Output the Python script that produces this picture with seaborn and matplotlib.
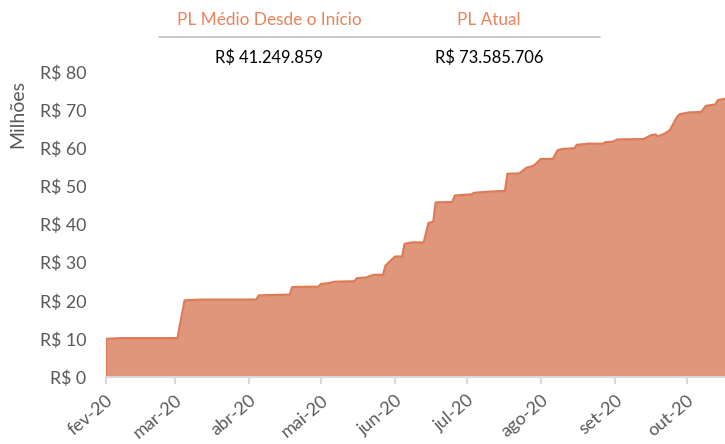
import pandas as pd
import numpy as np
import matplotlib
matplotlib.use("Agg")
import matplotlib.pyplot as plt
import matplotlib.dates as mdates
import seaborn as sns

# Breakpoints of the PL curve (R$ millions)
dates = [
    "2020-02-01", "2020-02-08", "2020-03-02", "2020-03-05", "2020-03-12",
    "2020-04-04", "2020-04-05", "2020-04-18", "2020-04-19", "2020-04-30",
    "2020-05-01", "2020-05-04", "2020-05-07", "2020-05-15", "2020-05-16",
    "2020-05-20", "2020-05-23", "2020-05-27", "2020-05-28", "2020-06-01",
    "2020-06-04", "2020-06-05", "2020-06-08", "2020-06-13", "2020-06-15",
    "2020-06-17", "2020-06-18", "2020-06-25", "2020-06-26", "2020-07-03",
    "2020-07-04", "2020-07-10", "2020-07-17", "2020-07-18", "2020-07-23",
    "2020-07-26", "2020-07-29", "2020-08-01", "2020-08-06", "2020-08-08",
    "2020-08-10", "2020-08-15", "2020-08-16", "2020-08-21", "2020-08-27",
    "2020-08-28", "2020-08-31", "2020-09-02", "2020-09-13", "2020-09-16",
    "2020-09-18", "2020-09-19", "2020-09-22", "2020-09-24", "2020-09-27",
    "2020-09-28", "2020-10-02", "2020-10-07", "2020-10-09", "2020-10-13",
    "2020-10-14", "2020-10-17",
]
pl_values = [
    10.0, 10.2, 10.2, 20.1, 20.3,
    20.3, 21.4, 21.6, 23.6, 23.7,
    24.4, 24.6, 25.0, 25.1, 25.9,
    26.1, 26.8, 26.8, 29.2, 31.6,
    31.6, 34.9, 35.3, 35.3, 40.4,
    40.7, 45.8, 45.9, 47.6, 47.9,
    48.3, 48.6, 48.8, 53.3, 53.4,
    54.9, 55.4, 57.2, 57.2, 59.5,
    59.8, 60.0, 60.9, 61.2, 61.2,
    61.6, 61.7, 62.3, 62.4, 63.4,
    63.6, 63.1, 63.9, 64.8, 68.3,
    68.9, 69.4, 69.5, 71.1, 71.5,
    72.6, 73.0,
]

header_labels = ["PL Médio Desde o Início", "PL Atual"]
header_values = ["R$ 41.249.859", "R$ 73.585.706"]

month_labels = ["fev-20", "mar-20", "abr-20", "mai-20", "jun-20",
                "jul-20", "ago-20", "set-20", "out-20"]
month_starts = pd.date_range("2020-02-01", periods=len(month_labels), freq="MS")
y_ticks = [0, 10, 20, 30, 40, 50, 60, 70, 80]

df = pd.DataFrame({"date": pd.to_datetime(dates), "pl": pl_values})

sns.set_style("white")
plt.rcParams["font.family"] = ["Lato", "DejaVu Sans"]

FILL = "#E0967A"
LINE = "#DD7B56"
ORANGE = "#E8835E"
GRAY = "#595959"

fig = plt.figure(figsize=(7.25, 4.44), dpi=100)
ax = fig.add_axes([105.7 / 725, 1 - 377 / 444, 1 - 105.7 / 725, (377 - 72) / 444])

ax.fill_between(df["date"], df["pl"], 0, color=FILL, linewidth=0)
sns.lineplot(data=df, x="date", y="pl", ax=ax, color=LINE, linewidth=1.6)
ax.plot([df["date"].iloc[0]] * 2, [0, df["pl"].iloc[0]], color=LINE, linewidth=1.6)

ax.set_xlim(pd.Timestamp("2020-02-01"), pd.Timestamp("2020-10-17"))
ax.set_ylim(0, 80)
ax.set_yticks(y_ticks)
ax.set_yticklabels([f"R$ {v}" for v in y_ticks])
ax.set_xticks(month_starts)
ax.set_xticklabels(month_labels, rotation=40, ha="right", rotation_mode="anchor")

for s in ["top", "right", "left"]:
    ax.spines[s].set_visible(False)
ax.spines["bottom"].set_color("#D9D9D9")
ax.spines["bottom"].set_linewidth(1.5)
ax.tick_params(axis="x", length=5, width=1.5, color="#D9D9D9", labelsize=13,
               labelcolor=GRAY, pad=6, direction="out", bottom=True)
ax.tick_params(axis="y", length=0, labelsize=12.8, labelcolor=GRAY, pad=14)
ax.set_xlabel("")
ax.set_ylabel("")
ax.grid(False)

fig.text(18 / 725, 1 - 114 / 444, "Milhões", rotation=90, ha="center", va="center",
         fontsize=14, color=GRAY)

# header block
for xc, lab, val in zip([269, 489], header_labels, header_values):
    fig.text(xc / 725, 1 - 20 / 444, lab, ha="center", va="center",
             fontsize=12.4, color=ORANGE)
    fig.text(xc / 725, 1 - 58 / 444, val, ha="center", va="center",
             fontsize=11.9, color="black")
fig.add_artist(plt.Line2D([159 / 725, 600 / 725], [1 - 37 / 444, 1 - 37 / 444],
                          color="#BFBFBF", linewidth=1.2, transform=fig.transFigure))

fig.savefig("out.png", dpi=100)
